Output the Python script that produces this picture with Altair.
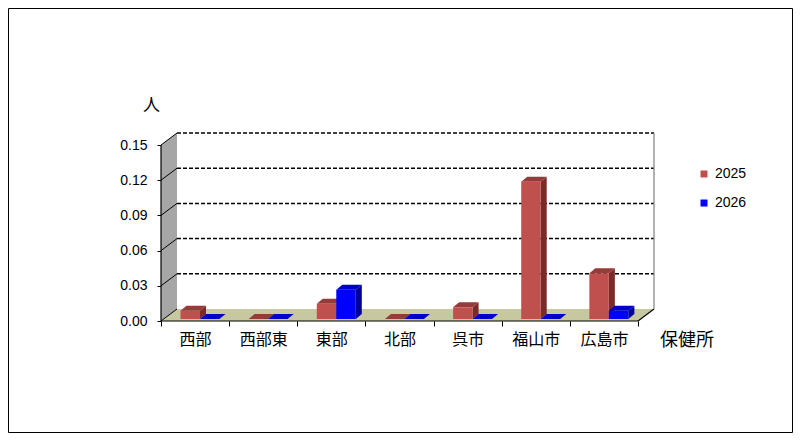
import json
import altair as alt

# ---- data ----
categories = ["西部", "西部東", "東部", "北部", "呉市", "福山市", "広島市"]
years = ["2025", "2026"]
values_2025 = [0.007, 0.0, 0.013, 0.0, 0.010, 0.117, 0.039]
values_2026 = [0.0, 0.0, 0.025, 0.0, 0.0, 0.0, 0.007]
y_ticks = [0.00, 0.03, 0.06, 0.09, 0.12, 0.15]
x_title = "保健所"
y_title = "人"

# ---- styles ----
front_colors = ["#C0504D", "#0000FF"]
top_colors = ["#953B39", "#0000CC"]
side_colors = ["#7A2B29", "#000099"]
floor_color = "#C8C8A0"
wall_color = "#A6A6A6"
CJK = "Noto Sans CJK JP"
LAT = "Liberation Sans"

# ---- pseudo-3D geometry (in scale units) ----
N = len(categories)
YMAX = y_ticks[-1]
PX_X = 68.14          # px per category
PX_Y = 1173.3         # px per unit value
DX = 16 / PX_X        # wall depth
DY = 12 / PX_Y
BAR_START = 19.5 / PX_X
BAR_W = 19.5 / PX_X
DXB = 6 / PX_X        # bar depth
DYB = 5 / PX_Y
BASE = 2 / PX_Y

W = round((N + DX) * PX_X)
H = round((YMAX + DY) * PX_Y)
PAD = {"left": 153, "top": 125, "right": 785 - 153 - W, "bottom": 425 - 125 - H}

rows = []
for s, (yr, vals) in enumerate(zip(years, [values_2025, values_2026])):
    for i, c in enumerate(categories):
        rows.append({"idx": i, "cat": c, "year": yr, "s": s, "v": vals[i]})
bars = alt.Data(values=rows)
ticks = alt.Data(values=[{"t": t} for t in y_ticks])

xs = alt.Scale(domain=[0, N + DX], nice=False, zero=False)
ys = alt.Scale(domain=[0, YMAX + DY], nice=False, zero=False)

label_expr = f"datum.value < {N} ? {json.dumps(categories, ensure_ascii=False)}[datum.value] : ''"

x_axis = alt.Axis(
    values=list(range(N + 1)), tickCount=20, labelExpr=label_expr, labelOffset=0.5 * PX_X,
    tickSize=5, tickColor="black", domain=False, grid=False, labelFlush=False,
    labelOverlap=False, labelFont=CJK, labelFontSize=16, labelColor="black",
    labelPadding=5, labelAngle=0,
    titleX=525.5, titleY=19, titleAlign="center", titleBaseline="middle",
    titleFont=CJK, titleFontSize=18, titleFontWeight="normal", titleColor="black",
)
y_axis = alt.Axis(
    values=y_ticks, tickCount=20, format=".2f", tickSize=4, tickColor="black", domain=False,
    grid=False, labelFlush=False, labelOverlap=False, labelFont=LAT, labelFontSize=14,
    labelColor="black", labelPadding=10, titleAngle=0, titleX=-10, titleY=-28,
    titleAlign="center", titleBaseline="middle", titleFont=CJK, titleFontSize=17,
    titleFontWeight="normal", titleColor="black",
)
legend = alt.Legend(
    title=None, orient="none", legendX=536, legendY=34, symbolType="square",
    symbolSize=49, symbolStrokeWidth=0, labelFont=LAT, labelFontSize=14,
    labelColor="black", rowPadding=15, padding=0, labelOffset=4,
)

bar_calc = dict(
    x0=f"datum.idx + {BAR_START} + datum.s * {BAR_W}",
)

X = lambda f: alt.X(f, scale=xs)
Y = lambda f: alt.Y(f, scale=ys, stack=None)

# back wall (left, grey)
left_wall = alt.Chart(alt.sequence(0, 2, as_="k")).transform_calculate(
    ax=f"datum.k * {DX}", alo=f"datum.k * {DY}", ahi=f"{YMAX} + datum.k * {DY}"
).mark_area(color=wall_color).encode(
    x=X("ax:Q"), y=Y("alo:Q"), y2="ahi:Q",
)

# floor
floor = alt.Chart(alt.sequence(0, 4, as_="k")).transform_calculate(
    ax=f"datum.k == 0 ? 0 : datum.k == 1 ? {DX} : datum.k == 2 ? {N} : {N + DX}",
    alo=f"datum.k == 3 ? {DY} : 0",
    ahi=f"datum.k == 0 ? 0 : {DY}",
).mark_area(color=floor_color).encode(
    x=X("ax:Q"), y=Y("alo:Q"), y2="ahi:Q",
)

# dashed gridlines on the back wall
grid = alt.Chart(ticks).transform_filter("datum.t > 0").transform_calculate(
    xa=f"{DX}", xb=f"{N + DX}", yy=f"datum.t + {DY}"
).mark_rule(color="black", strokeDash=[4, 2], strokeWidth=1.5).encode(
    x=X("xa:Q"), x2="xb:Q", y=Y("yy:Q"),
)

# diagonal lines on the left wall
diag = alt.Chart(ticks).transform_calculate(
    xa="0", xb=f"{DX}", ya="datum.t", yb=f"datum.t + {DY}"
).mark_rule(color="black", strokeWidth=1).encode(
    x=X("xa:Q"), x2="xb:Q", y=Y("ya:Q"), y2="yb:Q",
)

# frame lines
frame_rows = [
    {"xa": 0, "xb": 0, "ya": 0, "yb": YMAX, "c": "black"},
    {"xa": 0, "xb": N, "ya": 0, "yb": 0, "c": "black"},
    {"xa": N, "xb": N + DX, "ya": 0, "yb": DY, "c": "black"},
    {"xa": N + DX, "xb": N + DX, "ya": DY, "yb": YMAX + DY, "c": "#808080"},
]
frame = alt.Chart(alt.Data(values=frame_rows)).mark_rule(strokeWidth=1.2).encode(
    x=X("xa:Q"), x2="xb:Q", y=Y("ya:Q"), y2="yb:Q",
    color=alt.Color("c:N", scale=None, legend=None),
)

# bar side faces
side = alt.Chart(bars).transform_calculate(**bar_calc).transform_calculate(
    x1=f"datum.x0 + {BAR_W}", k="sequence(0, 2)"
).transform_flatten(["k"]).transform_calculate(
    ax=f"datum.x1 + datum.k * {DXB}",
    alo=f"{BASE} + datum.k * {DYB}",
    ahi=f"{BASE} + datum.v + datum.k * {DYB}",
    bar="datum.cat + '_' + datum.year",
).mark_area().encode(
    x=X("ax:Q"), y=Y("alo:Q"), y2="ahi:Q",
    detail="bar:N",
    color=alt.Color("year:N", scale=alt.Scale(domain=years, range=side_colors), legend=None),
)

# bar top faces
top = alt.Chart(bars).transform_calculate(**bar_calc).transform_calculate(
    x1=f"datum.x0 + {BAR_W}", k="sequence(0, 4)"
).transform_flatten(["k"]).transform_calculate(
    ax=f"datum.k == 0 ? datum.x0 : datum.k == 1 ? datum.x0 + {DXB} : datum.k == 2 ? datum.x1 : datum.x1 + {DXB}",
    alo=f"{BASE} + datum.v + (datum.k == 3 ? {DYB} : 0)",
    ahi=f"{BASE} + datum.v + (datum.k == 0 ? 0 : {DYB})",
    bar="datum.cat + '_' + datum.year",
).mark_area().encode(
    x=X("ax:Q"), y=Y("alo:Q"), y2="ahi:Q",
    detail="bar:N",
    color=alt.Color("year:N", scale=alt.Scale(domain=years, range=top_colors), legend=None),
)

# bar front faces (carry the axes and legend)
front = alt.Chart(bars).transform_calculate(**bar_calc).transform_calculate(
    x1=f"datum.x0 + {BAR_W}", ylo=f"{BASE}", yhi=f"{BASE} + datum.v"
).mark_rect().encode(
    x=alt.X("x0:Q", scale=xs, axis=x_axis, title=x_title),
    x2="x1:Q",
    y=alt.Y("ylo:Q", scale=ys, axis=y_axis, title=y_title),
    y2="yhi:Q",
    color=alt.Color("year:N", scale=alt.Scale(domain=years, range=front_colors), legend=legend),
)

# outer frame of the picture
border = alt.Chart(alt.sequence(0, 1, as_="k")).mark_rect(
    filled=False, stroke="black", strokeWidth=1
).encode(
    x=alt.value(-PAD["left"] + 0.5), x2=alt.value(W + PAD["right"] - 0.5),
    y=alt.value(-PAD["top"] + 0.5), y2=alt.value(H + PAD["bottom"] - 0.5),
)

chart = alt.layer(
    border, left_wall, floor, grid, diag, frame, side, top, front
).resolve_scale(color="independent").properties(
    width=W, height=H, padding=PAD, autosize=alt.AutoSizeParams(type="none"),
    background="white",
).configure_view(strokeWidth=0).configure_axis(
    labelOverlap=False, labelFlush=False, grid=False, domain=False
)

chart.save("out.html", embed_options={"renderer": "svg", "actions": False})
